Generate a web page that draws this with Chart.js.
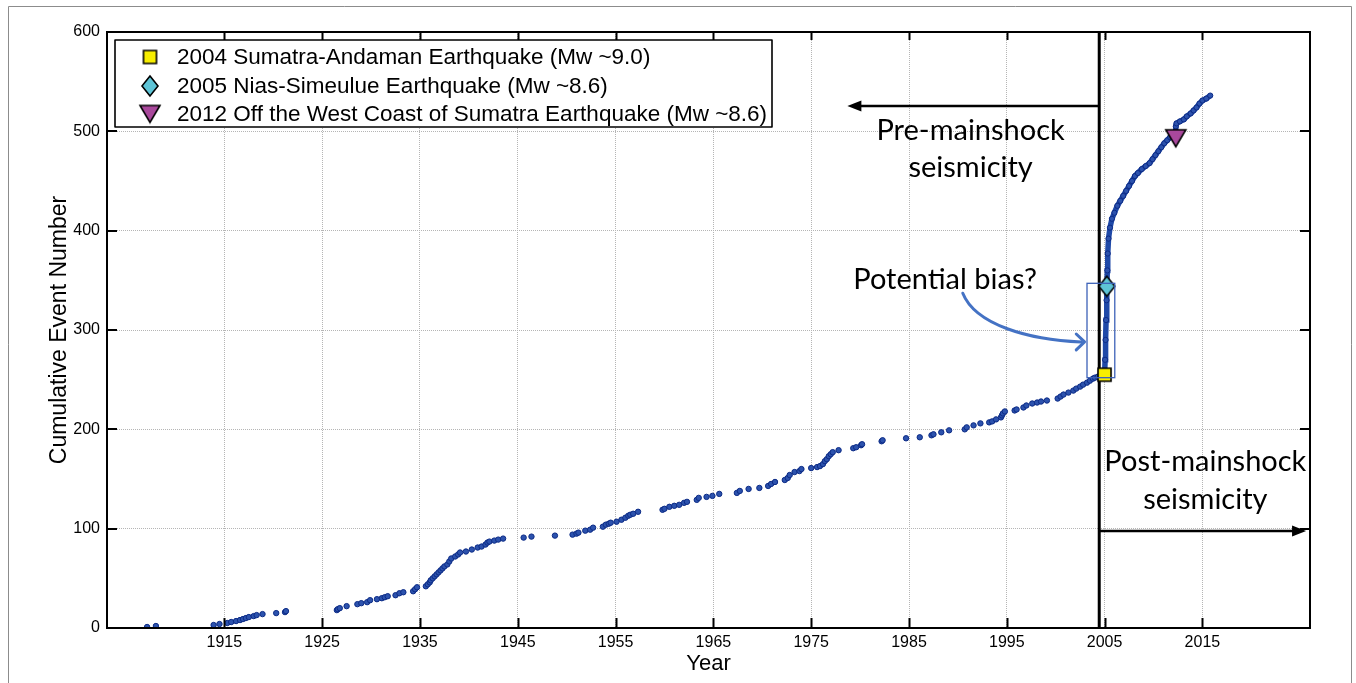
<!DOCTYPE html>
<html>
<head>
<meta charset="utf-8">
<script src="https://cdn.jsdelivr.net/npm/chart.js@4.4.1/dist/chart.umd.min.js"></script>
<style>
  html, body { margin: 0; padding: 0; background: #fff; }
  canvas { display: block; }
</style>
</head>
<body>
<canvas id="c" width="1356" height="683"></canvas>
<script>
// Cumulative catalogue counts before the 2004 mainshock (decimal year, event number)
const preYears = [
  1907.1, 1908.0, 1913.9, 1914.5, 1915.3, 1915.7, 1916.2, 1916.6, 1916.9, 1917.2,
  1917.5, 1918.0, 1918.3, 1918.9, 1920.3, 1921.2, 1921.3, 1926.5, 1926.6, 1926.8,
  1927.5, 1928.6, 1929.0, 1929.6, 1929.9, 1930.6, 1931.1, 1931.4, 1931.7, 1932.5,
  1932.9, 1933.3, 1934.3, 1934.5, 1934.7, 1935.6, 1935.8, 1936.0, 1936.1, 1936.3,
  1936.5, 1936.7, 1936.9, 1937.1, 1937.3, 1937.5, 1937.8, 1938.0, 1938.2, 1938.6,
  1938.9, 1939.1, 1939.7, 1940.3, 1940.9, 1941.3, 1941.7, 1941.9, 1942.1, 1942.6,
  1943.0, 1943.5, 1945.6, 1946.4, 1948.8, 1950.6, 1951.0, 1951.2, 1951.9, 1952.4,
  1952.7, 1953.7, 1954.0, 1954.3, 1954.5, 1955.1, 1955.6, 1956.0, 1956.3, 1956.5,
  1956.8, 1957.3, 1959.8, 1960.0, 1960.5, 1961.0, 1961.5, 1962.0, 1962.3, 1963.3,
  1963.5, 1964.3, 1964.9, 1965.6, 1967.4, 1967.7, 1968.6, 1969.7, 1970.6, 1970.9,
  1971.3, 1972.3, 1972.6, 1972.8, 1973.3, 1973.8, 1974.0, 1975.0, 1975.6, 1975.9,
  1976.2, 1976.4, 1976.6, 1976.8, 1977.0, 1977.2, 1977.8, 1979.3, 1979.6, 1980.1,
  1980.2, 1982.2, 1982.3, 1984.7, 1986.1, 1987.3, 1987.5, 1988.3, 1989.1, 1990.7,
  1990.9, 1991.6, 1992.3, 1993.2, 1993.5, 1993.9, 1994.4, 1994.5, 1994.6, 1994.8,
  1995.8, 1996.0, 1996.7, 1997.0, 1997.6, 1998.1, 1998.5, 1999.1, 2000.2, 2000.5,
  2000.8, 2001.3, 2001.8, 2002.1, 2002.5, 2002.8, 2003.2, 2003.5, 2003.8, 2004.0,
  2004.3
];
const preCounts = [
  1, 2, 3, 4, 5, 6, 7, 8, 9, 10,
  11, 12, 13, 14, 15, 16, 17, 18, 19, 20,
  22, 24, 25, 26, 28, 29, 30, 31, 32, 33,
  35, 36, 37, 39, 41, 42, 44, 46, 48, 50,
  52, 54, 56, 58, 60, 62, 64, 67, 70, 72,
  74, 76, 77, 79, 81, 82, 84, 86, 87, 88,
  89, 90, 91, 92, 93, 94, 95, 96, 98, 99,
  101, 102, 104, 105, 106, 107, 109, 111, 113, 114,
  115, 117, 119, 120, 122, 123, 124, 126, 127, 129,
  131, 132, 133, 135, 136, 138, 140, 141, 143, 145,
  147, 149, 151, 154, 157, 158, 160, 161, 162, 163,
  165, 168, 170, 173, 175, 177, 179, 181, 182, 184,
  185, 188, 189, 191, 192, 194, 195, 197, 199, 200,
  202, 204, 206, 207, 208, 210, 212, 214, 216, 218,
  219, 220, 222, 224, 226, 227, 228, 229, 231, 233,
  235, 237, 239, 241, 243, 245, 247, 249, 251, 252,
  253
];

// Cumulative counts from the 2004 mainshock onwards
const postYears = [
  2005.00, 2005.05, 2005.10, 2005.15, 2005.20, 2005.24, 2005.28, 2005.32, 2005.40, 2005.55,
  2005.75, 2006.00, 2006.30, 2006.60, 2006.90, 2007.20, 2007.50, 2007.80, 2008.10, 2008.40,
  2008.80, 2009.20, 2009.60, 2009.90, 2010.20, 2010.50, 2010.80, 2011.10, 2011.40, 2011.70,
  2012.00, 2012.25, 2012.28, 2012.35, 2012.70, 2013.10, 2013.40, 2013.80, 2014.10, 2014.40,
  2014.70, 2015.00, 2015.40, 2015.80
];
const postCounts = [
  255, 270, 290, 310, 330, 344, 360, 377, 392, 403,
  412, 418, 425, 430, 435, 440, 445, 450, 455, 458,
  462, 465, 468, 472, 476, 480, 484, 488, 491, 494,
  497, 500, 505, 508, 510, 512, 515, 518, 521, 524,
  528, 531, 533, 536
];

// Great earthquakes marked on the curve
const quakeLabels = [
  '2004 Sumatra-Andaman Earthquake (Mw ~9.0)',
  '2005 Nias-Simeulue Earthquake (Mw ~8.6)',
  '2012 Off the West Coast of Sumatra Earthquake (Mw ~8.6)'
];
const quakeYears = [2004.99, 2005.22, 2012.28];
const quakeCounts = [255, 344, 493];

const xTickYears = [1915, 1925, 1935, 1945, 1955, 1965, 1975, 1985, 1995, 2005, 2015];
const yTickValues = [0, 100, 200, 300, 400, 500, 600];

// Annotation layout, in axis units
const notes = {
  divideYear: 2004.45,
  preArrow: { y: 525.5, from: 2004.45, to: 1978.7 },
  postArrow: { y: 97.7, from: 2004.45, to: 2025.6 },
  preText: { x: 1991.3, rows: [['Pre-mainshock', 501], ['seismicity', 463]] },
  postText: { x: 2015.3, rows: [['Post-mainshock', 167], ['seismicity', 129]] },
  biasText: { x: 1988.7, y: 351, text: 'Potential bias?' },
  biasBox: { x0: 2003.2, x1: 2006.04, y0: 252, y1: 347 },
  biasCurve: [[1990.5, 337], [1991.8, 305], [1997.3, 290], [2002.6, 288]],
  biasHead: [[2002.1, 296], [2002.95, 288], [2002.1, 280]]
};

// Marker glyphs (square, diamond, downward triangle) with black outlines
function markerCanvas(shape, fill, w, h) {
  const cv = document.createElement('canvas');
  cv.width = w + 4; cv.height = h + 4;
  const g = cv.getContext('2d');
  const cx = cv.width / 2, cy = cv.height / 2;
  g.fillStyle = fill; g.strokeStyle = '#000'; g.lineWidth = 1.6; g.lineJoin = 'miter';
  g.beginPath();
  if (shape === 'square') {
    g.rect(cx - w / 2, cy - h / 2, w, h);
  } else if (shape === 'diamond') {
    g.moveTo(cx, cy - h / 2); g.lineTo(cx + w / 2, cy); g.lineTo(cx, cy + h / 2); g.lineTo(cx - w / 2, cy); g.closePath();
  } else {
    g.moveTo(cx - w / 2, cy - h / 2); g.lineTo(cx + w / 2, cy - h / 2); g.lineTo(cx, cy + h / 2); g.closePath();
  }
  g.fill(); g.stroke();
  return cv;
}
const quakeGlyphs = [
  markerCanvas('square', '#f7ee00', 13, 13),
  markerCanvas('diamond', '#5ec4d6', 16, 20),
  markerCanvas('triangle', '#a9489c', 20, 17)
];

const SANS = "'Liberation Sans', Arial, Helvetica, sans-serif";
const NOTE_FONT = "29px Lato, 'Open Sans', sans-serif";
Chart.defaults.font.family = SANS;
Chart.defaults.color = '#000';

function arrowLine(g, x0, y, x1) {
  const dir = Math.sign(x1 - x0);
  g.beginPath(); g.moveTo(x0, y); g.lineTo(x1 - dir * 12, y); g.stroke();
  g.beginPath(); g.moveTo(x1, y); g.lineTo(x1 - dir * 14, y - 5.5); g.lineTo(x1 - dir * 14, y + 5.5); g.closePath(); g.fill();
}

const decor = {
  id: 'decor',
  beforeDraw(c) {
    const g = c.ctx;
    g.save();
    g.fillStyle = '#fff'; g.fillRect(0, 0, c.width, c.height);
    g.strokeStyle = '#8c8c8c'; g.lineWidth = 1;
    g.beginPath(); g.moveTo(8.5, c.height); g.lineTo(8.5, 6.5); g.lineTo(c.width - 4.5, 6.5); g.lineTo(c.width - 4.5, c.height); g.stroke();
    g.restore();
  },
  beforeDatasetsDraw(c) {
    const g = c.ctx, xs = c.scales.x, ys = c.scales.y, a = c.chartArea;
    g.save();
    g.strokeStyle = '#000'; g.fillStyle = '#000'; g.lineWidth = 3;
    const xd = xs.getPixelForValue(notes.divideYear);
    g.beginPath(); g.moveTo(xd, a.top); g.lineTo(xd, a.bottom); g.stroke();
    g.lineWidth = 2.5;
    arrowLine(g, xs.getPixelForValue(notes.preArrow.from), ys.getPixelForValue(notes.preArrow.y), xs.getPixelForValue(notes.preArrow.to));
    arrowLine(g, xs.getPixelForValue(notes.postArrow.from), ys.getPixelForValue(notes.postArrow.y), xs.getPixelForValue(notes.postArrow.to));
    g.restore();
  },
  afterDatasetsDraw(c) {
    const g = c.ctx, xs = c.scales.x, ys = c.scales.y, a = c.chartArea;
    const P = (p) => [xs.getPixelForValue(p[0]), ys.getPixelForValue(p[1])];
    g.save();
    // highlighted window around the mainshock
    const b = notes.biasBox;
    g.strokeStyle = '#3d62b8'; g.lineWidth = 1.3;
    const bx0 = xs.getPixelForValue(b.x0), bx1 = xs.getPixelForValue(b.x1);
    const by0 = ys.getPixelForValue(b.y0), by1 = ys.getPixelForValue(b.y1);
    g.strokeRect(bx0, by1, bx1 - bx0, by0 - by1);
    // curved pointer
    g.strokeStyle = '#4472c4'; g.lineWidth = 3; g.lineCap = 'round'; g.lineJoin = 'round';
    const cv = notes.biasCurve.map(P);
    g.beginPath(); g.moveTo(cv[0][0], cv[0][1]);
    g.bezierCurveTo(cv[1][0], cv[1][1], cv[2][0], cv[2][1], cv[3][0], cv[3][1]); g.stroke();
    const hd = notes.biasHead.map(P);
    g.beginPath(); g.moveTo(hd[0][0], hd[0][1]); g.lineTo(hd[1][0], hd[1][1]); g.lineTo(hd[2][0], hd[2][1]); g.stroke();
    // annotation text
    g.fillStyle = '#000'; g.font = NOTE_FONT; g.textAlign = 'center'; g.textBaseline = 'middle';
    for (const t of [notes.preText, notes.postText]) {
      for (const r of t.rows) g.fillText(r[0], xs.getPixelForValue(t.x), ys.getPixelForValue(r[1]));
    }
    g.fillText(notes.biasText.text, xs.getPixelForValue(notes.biasText.x), ys.getPixelForValue(notes.biasText.y));
    // legend
    const lx = a.left + 8, ly = a.top + 8, lw = 657, lh = 87;
    g.fillStyle = '#fff'; g.fillRect(lx, ly, lw, lh);
    g.strokeStyle = '#000'; g.lineWidth = 1.6; g.strokeRect(lx, ly, lw, lh);
    g.font = '22.5px ' + SANS; g.textAlign = 'left'; g.fillStyle = '#000';
    const rowY = [17, 46, 74];
    quakeLabels.forEach((lab, i) => {
      const gl = quakeGlyphs[i];
      g.drawImage(gl, lx + 35 - gl.width / 2, ly + rowY[i] - gl.height / 2);
      g.fillText(lab, lx + 62, ly + rowY[i] + 1);
    });
    g.restore();
  },
  afterDraw(c) {
    const g = c.ctx, xs = c.scales.x, ys = c.scales.y, a = c.chartArea;
    g.save();
    g.strokeStyle = '#000'; g.lineWidth = 2;
    g.strokeRect(a.left, a.top, a.right - a.left, a.bottom - a.top);
    g.beginPath();
    for (const v of xTickYears) {
      const x = Math.round(xs.getPixelForValue(v)) + 0.5;
      g.moveTo(x, a.bottom); g.lineTo(x, a.bottom - 10);
      g.moveTo(x, a.top); g.lineTo(x, a.top + 8);
    }
    for (const v of yTickValues) {
      const y = Math.round(ys.getPixelForValue(v));
      g.moveTo(a.left, y); g.lineTo(a.left + 10, y);
      g.moveTo(a.right, y); g.lineTo(a.right - 10, y);
    }
    g.stroke();
    g.restore();
  }
};

const dotFill = '#2c52ad', dotEdge = '#0c2b86';

new Chart(document.getElementById('c'), {
  type: 'scatter',
  data: {
    datasets: [
      ...quakeLabels.map((lab, i) => ({
        label: lab,
        data: [{ x: quakeYears[i], y: quakeCounts[i] }],
        pointStyle: quakeGlyphs[i],
        pointRadius: 10,
        order: 0
      })),
      {
        label: 'post-mainshock',
        data: postYears.map((x, i) => ({ x, y: postCounts[i] })),
        showLine: true,
        borderColor: '#1f49a8',
        borderWidth: 5.5,
        pointRadius: 2.6,
        pointBackgroundColor: dotFill,
        pointBorderColor: dotEdge,
        pointBorderWidth: 1,
        order: 1
      },
      {
        label: 'pre-mainshock',
        data: preYears.map((x, i) => ({ x, y: preCounts[i] })),
        showLine: false,
        pointRadius: 2.7,
        pointBackgroundColor: dotFill,
        pointBorderColor: dotEdge,
        pointBorderWidth: 1,
        order: 2
      }
    ]
  },
  options: {
    responsive: false,
    animation: false,
    devicePixelRatio: 1,
    events: [],
    layout: { padding: { top: 32, right: 46, bottom: 0, left: 0 } },
    plugins: { legend: { display: false }, tooltip: { enabled: false } },
    scales: {
      x: {
        type: 'linear',
        min: 1903,
        max: 2026,
        afterBuildTicks: (s) => { s.ticks = xTickYears.map(v => ({ value: v })); },
        afterFit: (s) => { s.height = 55; },
        ticks: { callback: (v) => String(v), font: { size: 16 }, padding: 5, maxRotation: 0, autoSkip: false },
        grid: { color: '#b5b5b5', lineWidth: 1, drawTicks: false },
        border: { display: false, dash: [1, 1] },
        title: { display: true, text: 'Year', font: { size: 22 }, padding: { top: 0, bottom: 6 } }
      },
      y: {
        min: 0,
        max: 600,
        afterBuildTicks: (s) => { s.ticks = yTickValues.map(v => ({ value: v })); },
        afterFit: (s) => { s.width = 107; },
        ticks: { font: { size: 16 }, padding: 7 },
        grid: { color: '#b5b5b5', lineWidth: 1, drawTicks: false },
        border: { display: false, dash: [1, 1] },
        title: { display: true, text: 'Cumulative Event Number', font: { size: 23 }, padding: { top: 46, bottom: 0 } }
      }
    }
  },
  plugins: [decor]
});
</script>
</body>
</html>
